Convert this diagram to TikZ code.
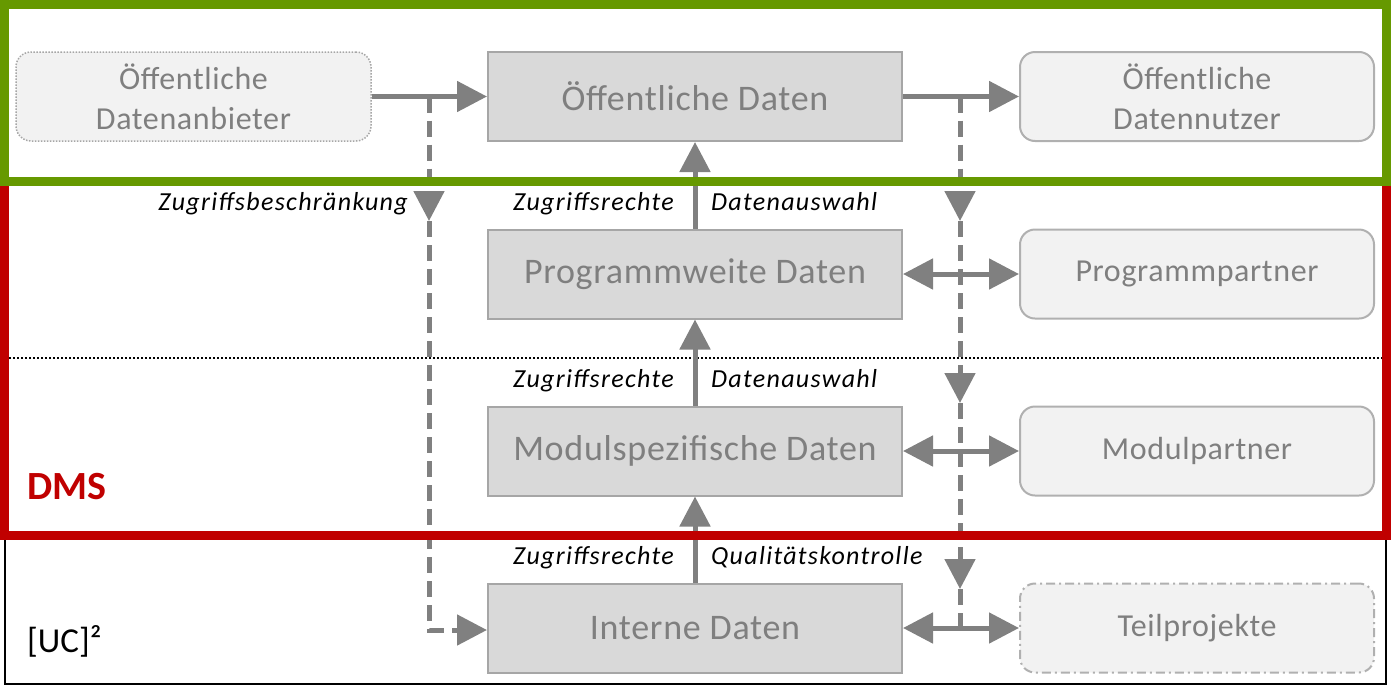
\documentclass[tikz,border=0pt]{standalone}
\usepackage{fontspec}
\setmainfont{Carlito}
\usetikzlibrary{arrows.meta}
\definecolor{dgreen}{HTML}{669900}
\definecolor{dred}{HTML}{C00000}
\definecolor{agray}{HTML}{808080}
\definecolor{bfill}{HTML}{D9D9D9}
\definecolor{bline}{HTML}{A6A6A6}
\definecolor{sfill}{HTML}{F2F2F2}
\definecolor{sline}{HTML}{B0B0B0}
\definecolor{tgray}{HTML}{7F7F7F}
\begin{document}
\begin{tikzpicture}[x=1pt,y=-1pt,
 mainbox/.style={draw=bline, line width=2pt, fill=bfill, minimum width=414pt, minimum height=89pt, inner sep=0pt, text=tgray, font=\fontsize{36}{40}\selectfont\addfontfeature{LetterSpace=2}},
 sidebox/.style={draw=sline, line width=2pt, fill=sfill, rounded corners=15pt, minimum width=354pt, minimum height=89pt, inner sep=0pt, text=tgray, align=center, font=\fontsize{32}{40}\selectfont\addfontfeature{LetterSpace=2}},
 flow/.style={draw=agray, line width=5pt, -{Triangle[length=30pt,width=30pt]}},
 biflow/.style={draw=agray, line width=5pt, {Triangle[length=30pt,width=30pt]}-{Triangle[length=30pt,width=30pt]}},
 dflow/.style={draw=agray, line width=5pt, dash pattern=on 16pt off 8pt, -{Triangle[length=30pt,width=30pt]}},
 dline/.style={draw=agray, line width=5pt, dash pattern=on 16pt off 8pt},
 lbl/.style={font=\fontsize{26}{30}\selectfont\itshape\addfontfeature{LetterSpace=5}, inner sep=0pt},
]
\useasboundingbox (0,0) rectangle (1391,689);

% dotted separator
\coordinate (sepL) at (9,358);
\coordinate (sepR) at (1382,358);
\draw[line width=2.5pt, dash pattern=on 2pt off 2pt] (sepL) -- (sepR);

% boxes
\node[sidebox, draw=bline, line width=1.5pt, dash pattern=on 1.5pt off 1.5pt, minimum width=355pt] (lb) at (193.5,96.5) {Öffentliche\\Datenanbieter};
\node[mainbox] (od) at (695,96.5) {Öffentliche Daten};
\node[mainbox] (pw) at (695,274) {Programmweite Daten};
\node[mainbox] (ms) at (695,451) {Modulspezifische Daten};
\node[mainbox] (id) at (695,628) {Interne Daten};
\node[sidebox] (dn) at (1197,96.5) {Öffentliche\\Datennutzer};
\node[sidebox] (pp) at (1197,274) {Programmpartner};
\node[sidebox] (mp) at (1197,451) {Modulpartner};
\node[sidebox, dash pattern=on 9pt off 4pt on 2pt off 4pt] (tp) at (1197,628) {Teilprojekte};

% solid flows
\draw[flow] (lb.east) -- (od.west);
\draw[flow] (od.east) -- (dn.west);
\draw[flow] (pw.north) -- (od.south);
\draw[flow] (ms.north) -- (pw.south);
\draw[flow] (id.north) -- (ms.south);
\draw[biflow] (pw.east) -- (pp.west);
\draw[biflow] (ms.east) -- (mp.west);
\draw[biflow] (id.east) -- (tp.west);

% dashed left
\coordinate (j1) at (429,96.5);
\coordinate (m1) at (429,221);
\coordinate (c1) at (429,630);
\draw[dflow] (j1) -- (m1);
\draw[dflow] (m1) -- (c1) -- (id.west |- c1);

% dashed right
\coordinate (j2) at (960,96.5);
\coordinate (m2) at (960,221);
\coordinate (m3) at (960,403);
\coordinate (m4) at (960,589);
\coordinate (c2) at (960,630);
\draw[dflow] (j2) -- (m2);
\draw[dflow] (m2) -- (m3);
\draw[dflow] (m3) -- (m4);
\draw[dline] (m4) -- (c2);

% labels
\node[lbl, anchor=base east] (zb) at (408,210) {Zugriffsbeschränkung};
\node[lbl, anchor=base east] (zr1) at (674,210) {Zugriffsrechte};
\node[lbl, anchor=base west] (da1) at (711,210) {Datenauswahl};
\node[lbl, anchor=base east] (zr2) at (674,387) {Zugriffsrechte};
\node[lbl, anchor=base west] (da2) at (711,387) {Datenauswahl};
\node[lbl, anchor=base east] (zr3) at (674,564) {Zugriffsrechte};
\node[lbl, anchor=base west] (qk) at (711,564) {Qualitätskontrolle};

\node[anchor=base west, text=dred, font=\fontsize{40}{48}\selectfont\bfseries, inner sep=0pt] (dms) at (27,499) {DMS};
\node[anchor=base west, font=\fontsize{35}{40}\selectfont, inner sep=0pt] (uc) at (27,652) {[UC]²};

% frames
\draw[black, line width=2pt] (5,535) rectangle (1386,684);
\draw[dred, line width=9pt] (4.5,181) rectangle (1386.5,535);
\draw[dgreen, line width=9pt] (4.5,4.5) rectangle (1386.5,181);
\end{tikzpicture}
\end{document}
